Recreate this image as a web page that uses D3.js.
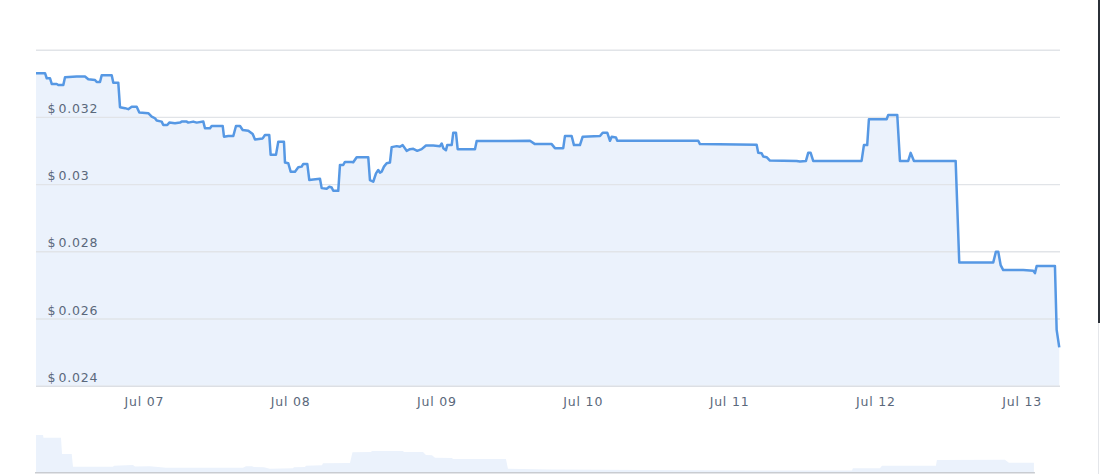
<!DOCTYPE html>
<html>
<head>
<meta charset="utf-8">
<script src="https://cdn.jsdelivr.net/npm/d3@7"></script>
<style>
    html, body { margin: 0; padding: 0; background: #fff; }
    #chart { position: relative; width: 1100px; height: 474px; overflow: hidden; }
    #edge { position: absolute; left: 1098px; top: 0; width: 2px; height: 323px; background: #2b3038; }
    #edgeLow { position: absolute; left: 1098px; top: 323px; width: 1px; height: 151px; background: #e4e6ea; }
    text { font-family: "DejaVu Sans", Verdana, sans-serif; font-size: 12.5px; fill: #5a687b; letter-spacing: 0.8px; }
</style>
</head>
<body>
<div id="chart">
    <svg id="priceSvg" width="1100" height="474"></svg>
    <div id="edge"></div>
    <div id="edgeLow"></div>
</div>
<script>
// hours counted from Jul 06 00:00 (UTC)
const hours = [6.3, 7.78, 8.06, 8.6, 8.88, 9.7, 9.96, 10.78, 11.06, 12.98, 14.34, 14.88, 15.98, 16.26, 16.8, 17.08, 18.72, 18.98, 19.8, 20.08,
    20.9, 21.44, 22.0, 22.82, 23.25, 24.72, 25.28, 25.82, 26.1, 26.92, 27.18, 27.84, 28.17, 29.1, 29.92, 30.2, 31.02, 31.28, 32.1, 32.66,
    33.75, 34.02, 34.85, 35.12, 36.93, 37.14, 37.85, 38.67, 39.11, 39.77, 40.21, 41.13, 41.85, 42.23, 43.49, 43.87, 44.57, 44.8, 45.67, 46.05,
    46.98, 47.15, 47.69, 48.08, 48.79, 49.33, 49.89, 50.15, 50.81, 51.14, 51.79, 52.89, 53.17, 53.99, 54.42, 54.81, 55.07, 55.89, 56.17, 56.71,
    56.99, 58.09, 58.35, 58.91, 60.81, 61.09, 61.63, 62.08, 62.45, 62.73, 63.01, 63.39, 63.83, 64.37, 64.65, 65.47, 66.01, 66.46, 67.11, 67.65,
    68.2, 68.85, 69.57, 70.28, 71.48, 72.58, 72.86, 73.12, 73.56, 73.77, 74.5, 74.76, 75.2, 75.48, 78.32, 78.6, 87.34, 88.16, 90.9, 91.44,
    92.8, 93.08, 94.18, 94.56, 95.54, 95.99, 98.83, 99.27, 100.02, 100.47, 100.75, 101.45, 101.66, 114.95, 115.23, 124.53, 124.79, 125.35, 125.61, 126.17,
    126.71, 131.09, 131.63, 132.62, 132.99, 133.39, 133.81, 141.75, 142.13, 142.67, 142.95, 145.86, 146.12, 147.6, 148.04, 149.4, 149.8, 150.34,
    157.18, 157.77, 163.35, 163.79, 164.17, 164.56, 164.99, 168.27, 169.91, 170.19, 170.47, 173.47, 173.75, 174.18];

const prices = [0.0333, 0.0333, 0.03315, 0.03315, 0.03298, 0.03298, 0.03295, 0.03295, 0.03318, 0.0332, 0.0332, 0.03312, 0.0331, 0.03304, 0.03304, 0.03324, 0.03324, 0.03302, 0.03302, 0.03229,
    0.03226, 0.03223, 0.0323, 0.0323, 0.03213, 0.03211, 0.03201, 0.03196, 0.03189, 0.03186, 0.03176, 0.03176, 0.03183, 0.03181, 0.03183, 0.03186, 0.03186, 0.03183, 0.03186, 0.03183,
    0.03186, 0.03166, 0.03166, 0.03173, 0.03173, 0.03141, 0.03143, 0.03143, 0.03173, 0.03173, 0.03161, 0.03159, 0.03149, 0.03133, 0.03136, 0.03146, 0.03146, 0.03087, 0.03087, 0.03126,
    0.03126, 0.03064, 0.03062, 0.03037, 0.03037, 0.0305, 0.03052, 0.0306, 0.0306, 0.03012, 0.03014, 0.03016, 0.02988, 0.02986, 0.02992, 0.0299, 0.0298, 0.0298, 0.03057, 0.03057,
    0.03066, 0.03066, 0.03065, 0.0308, 0.0308, 0.03012, 0.03007, 0.03032, 0.03042, 0.03034, 0.03037, 0.03052, 0.03062, 0.03064, 0.0311, 0.03113, 0.03111, 0.03116, 0.03099, 0.03104,
    0.03105, 0.03099, 0.03104, 0.03115, 0.03115, 0.03113, 0.03121, 0.03107, 0.03101, 0.03116, 0.03116, 0.03153, 0.03153, 0.03104, 0.03104, 0.03128, 0.03129, 0.03119, 0.03119, 0.03107,
    0.03107, 0.03143, 0.03143, 0.03116, 0.03116, 0.03141, 0.03143, 0.03153, 0.03153, 0.03129, 0.03141, 0.03139, 0.03129, 0.03129, 0.03119, 0.03117, 0.03093, 0.03092, 0.03082, 0.0308,
    0.0307, 0.03069, 0.03067, 0.03069, 0.03093, 0.03093, 0.03069, 0.03069, 0.03116, 0.03116, 0.03193, 0.03193, 0.03206, 0.03206, 0.03069, 0.03069, 0.03093, 0.03069,
    0.03069, 0.02767, 0.02767, 0.02799, 0.02799, 0.02759, 0.02744, 0.02744, 0.02742, 0.02735, 0.02756, 0.02756, 0.02566, 0.02514];

// navigator series (overview strip), same hour base
const navHours = [6.3, 7.45, 7.53, 10.4, 10.57, 12.16, 12.37, 18.93, 19.1, 22.21, 22.54, 25.0, 27.63, 40.26, 40.75, 41.73, 42.06, 43.7, 44.69, 48.46,
    48.63, 50.43, 50.59, 53.22, 53.38, 57.81, 58.22, 61.26, 61.42, 66.51, 66.67, 69.79, 70.28, 71.26, 71.76, 74.55, 74.71, 83.4, 83.73, 90.62,
    113.92, 140.16, 140.33, 144.76, 145.09, 153.94, 154.11, 165.26, 165.92, 170.02];
const navLevels = [37.7, 37.7, 35, 35, 18.7, 18.7, 6, 6, 7, 7.7, 6.2, 6.4, 5, 5, 6.4, 6.4, 5.7, 5.4, 4, 4.4,
    5.4, 5.7, 7, 7.4, 9.4, 9.7, 20.4, 20.7, 21.7, 21.7, 20.7, 20.7, 17.7, 17.4, 15, 14.7, 13.7, 13.7, 4, 3.2,
    2.4, 2.2, 4.4, 4.4, 7, 7, 12.7, 13, 10, 10];

const yTicks = [0.024, 0.026, 0.028, 0.03, 0.032, 0.034];
const yLabels = ["$ 0.024", "$ 0.026", "$ 0.028", "$ 0.03", "$ 0.032", ""];
const tickDays = [7, 8, 9, 10, 11, 12, 13];
const tickLabels = ["Jul 07", "Jul 08", "Jul 09", "Jul 10", "Jul 11", "Jul 12", "Jul 13"];

const baseTime = Date.UTC(2024, 6, 6);
const hourMs = 3600 * 1000;
const toDate = h => new Date(baseTime + h * hourMs);

const svg = d3.select("#priceSvg");
const left = 36, right = 1060;

const x = d3.scaleUtc()
    .domain([toDate(6.3), toDate(6.3 + 168)])
    .range([left, right]);

const y = d3.scaleLinear()
    .domain([0.024, 0.034])
    .range([385.7, 49.7]);

const yNav = d3.scaleLinear()
    .domain([0, 40])
    .range([472.7, 432.7]);

const series = hours.map((h, i) => ({ date: toDate(h), value: prices[i] }));
const navSeries = navHours.map((h, i) => ({ date: toDate(h), value: navLevels[i] }));

// area first, grid on top of it like the reference
svg.append("path")
    .datum(series)
    .attr("fill", "#ebf2fc")
    .attr("d", d3.area().x(d => x(d.date)).y0(y(0.024)).y1(d => y(d.value)));

const grid = svg.append("g")
    .call(d3.axisLeft(y).tickValues(yTicks).tickSize(-(right - left)).tickFormat(""))
    .attr("transform", `translate(${left},0)`);
grid.select(".domain").remove();
grid.selectAll(".tick line")
    .attr("stroke", (d) => d === 0.024 ? "#dcdfe4" : "#e1e4e8")
    .attr("stroke-width", 1.4);

svg.append("g")
    .selectAll("text")
    .data(yTicks)
    .join("text")
    .attr("x", 47.5)
    .attr("y", d => y(d) - 4)
    .attr("word-spacing", "-2.5")
    .text((d, i) => yLabels[i]);

svg.append("path")
    .datum(series)
    .attr("fill", "none")
    .attr("stroke", "#5698e4")
    .attr("stroke-width", 2.5)
    .attr("stroke-linejoin", "round")
    .attr("d", d3.line().x(d => x(d.date)).y(d => y(d.value)));

const xAxis = svg.append("g")
    .attr("transform", "translate(0,406)")
    .call(d3.axisBottom(x)
        .tickValues(tickDays.map(d => new Date(Date.UTC(2024, 6, d))))
        .tickSize(0)
        .tickPadding(0)
        .tickFormat((d, i) => tickLabels[i]));
xAxis.select(".domain").remove();
xAxis.selectAll("text")
    .attr("dy", 0)
    .attr("y", 0)
    .attr("fill", "#5a687b")
    .style("font-family", "\"DejaVu Sans\", Verdana, sans-serif")
    .style("font-size", "12.5px");

// navigator strip
svg.append("path")
    .datum(navSeries)
    .attr("fill", "#ebf2fc")
    .attr("d", d3.area().x(d => x(d.date)).y0(yNav(0)).y1(d => yNav(d.value)));

svg.append("line")
    .attr("x1", left - 1)
    .attr("x2", x(toDate(170.02)) + 1)
    .attr("y1", 472.8)
    .attr("y2", 472.8)
    .attr("stroke", "#c9ccd1")
    .attr("stroke-width", 1.5);
</script>
</body>
</html>
